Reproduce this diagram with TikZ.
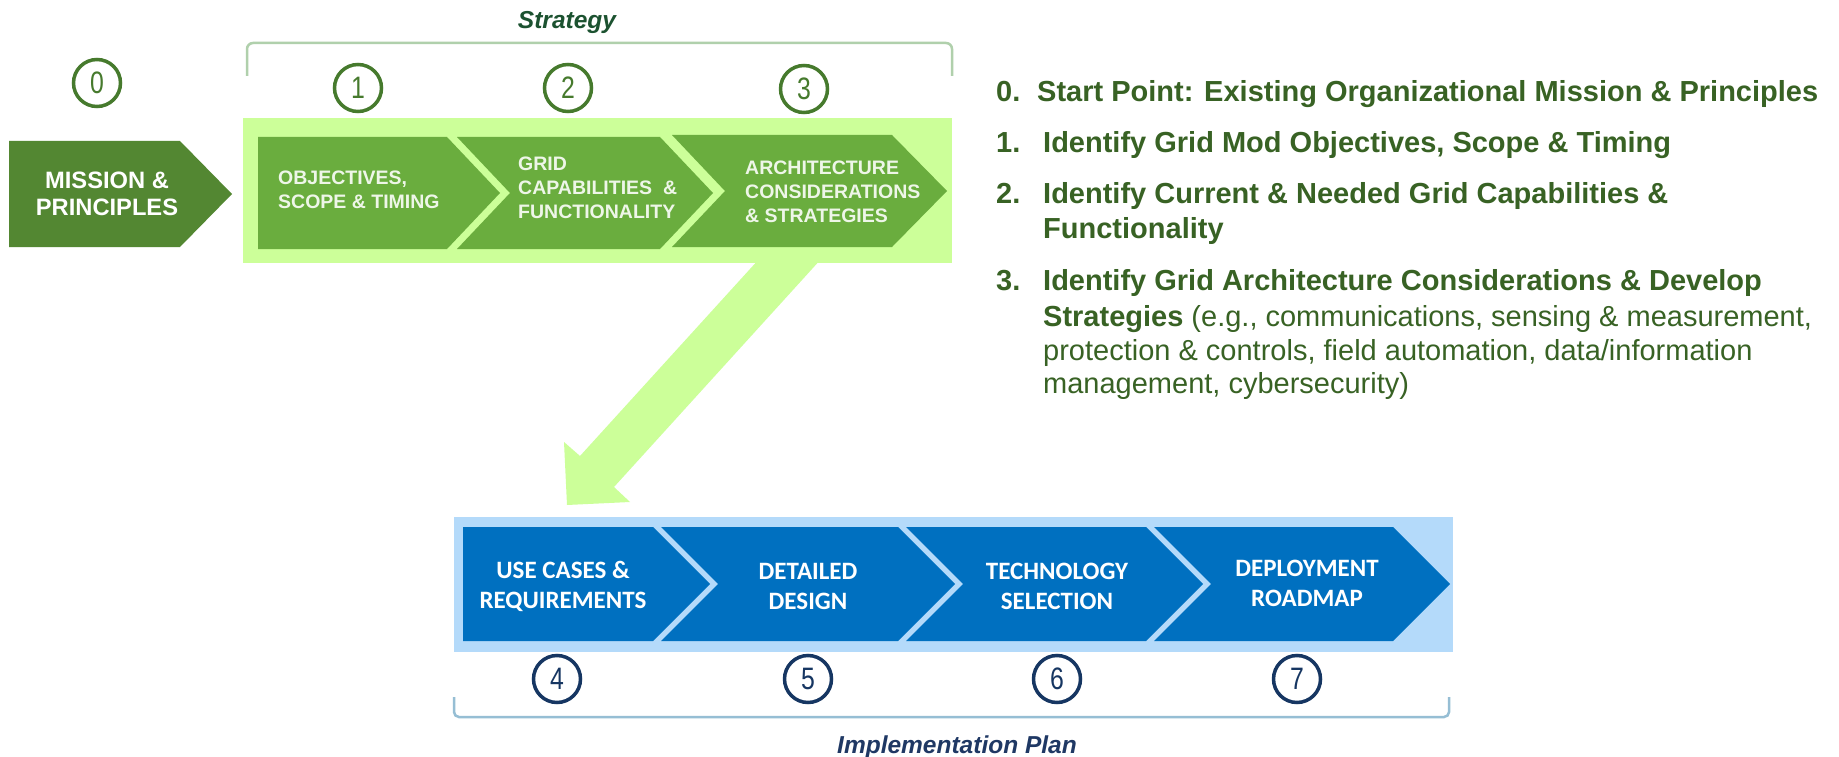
\documentclass[tikz,border=0pt]{standalone}
\usepackage{fontspec}
\setmainfont{Liberation Sans}
\newfontfamily\calibrifont{Carlito}
\newfontfamily\thinfont{Liberation Sans}[FakeStretch=0.8]
\usepackage{tikz}

\definecolor{missiongreen}{RGB}{83,135,50}
\definecolor{stepgreen}{RGB}{106,173,62}
\definecolor{palegreen}{RGB}{204,255,153}
\definecolor{textgreen}{RGB}{56,98,36}
\definecolor{titlegreen}{RGB}{28,82,48}
\definecolor{ringgreen}{RGB}{70,122,45}
\definecolor{bracegreen}{RGB}{176,208,172}
\definecolor{stepblue}{RGB}{0,112,192}
\definecolor{paleblue}{RGB}{180,218,250}
\definecolor{ringblue}{RGB}{22,54,98}
\definecolor{braceblue}{RGB}{150,190,212}
\definecolor{titleblue}{RGB}{31,56,100}
\definecolor{steptext}{RGB}{238,246,232}

\tikzset{
  greenring/.style={circle, draw=ringgreen, line width=3.5pt, minimum size=47pt, inner sep=0pt,
    text=ringgreen, font=\thinfont\fontsize{31}{31}\selectfont},
  bluering/.style={greenring, draw=ringblue, text=ringblue},
  greentext/.style={align=left, anchor=west, inner sep=0pt, text=steptext,
    font=\bfseries\fontsize{19.5}{24}\selectfont},
  bluetext/.style={align=center, inner sep=0pt, text=white,
    font=\calibrifont\bfseries\fontsize{25}{30}\selectfont},
  listline/.style={anchor=base west, inner sep=0pt, text=textgreen,
    font=\bfseries\fontsize{29}{34}\selectfont},
  plantitle/.style={inner sep=0pt, font=\bfseries\itshape\fontsize{24.5}{24.5}\selectfont}
}

\begin{document}
\begin{tikzpicture}[x=1pt,y=-1pt]
        \fill[white] (0,0) rectangle (1839,757);
        \useasboundingbox (0,0) rectangle (1839,757);

        % Strategy bracket
        \node[plantitle, text=titlegreen] (strategy) at (567,22) {Strategy};
        \draw[bracegreen, line width=2.5pt, rounded corners=6pt] (247,76) -- (247,43) -- (952,43) -- (952,76);

        % Mission
        \fill[missiongreen] (9,141) -- (180,141) -- (232,194) -- (180,247) -- (9,247) -- cycle;
        \node[align=center, inner sep=0pt, text=white, font=\bfseries\fontsize{23.7}{27}\selectfont] (mission) at (107,194) {MISSION \&\\PRINCIPLES};

        % Strategy box and the arrow down
        \fill[palegreen] (243,118) rectangle (952,263);
        \fill[palegreen] (760,258) -- (822,258) -- (614,487) -- (630,502) -- (567,505) -- (564,442) -- (580,456) -- cycle;

        % green steps
        \fill[stepgreen] (258,137) -- (447,137) -- (500,193) -- (447,249) -- (258,249) -- cycle;
        \fill[stepgreen] (457,137) -- (660,137) -- (713,193) -- (660,249) -- (457,249) -- (510,193) -- cycle;
        \fill[stepgreen] (672,135) -- (892,135) -- (947,191) -- (892,247) -- (672,247) -- (725,191) -- cycle;
        \node[greentext] (objectives) at (278,190) {OBJECTIVES,\\SCOPE \& TIMING};
        \node[greentext] (capabilities) at (518,188) {GRID\\CAPABILITIES \ \&\\FUNCTIONALITY};
        \node[greentext] (architecture) at (745,192) {ARCHITECTURE\\CONSIDERATIONS\\\& STRATEGIES};

        % numbers 0 to 3
        \node[greenring] (s0) at (97,83) {0};
        \node[greenring] (s1) at (358,88) {1};
        \node[greenring] (s2) at (568,88) {2};
        \node[greenring] (s3) at (804,89) {3};

        % Implementation bar
        \fill[paleblue] (454,517) rectangle (1453,652);
        \fill[stepblue] (463,527) -- (653,527) -- (710,584) -- (653,641) -- (463,641) -- cycle;
        \foreach \l/\r in {661/898, 906/1146, 1154/1393}
            \fill[stepblue] (\l,527) -- (\r,527) -- (\r+57,584) -- (\r,641) -- (\l,641) -- (\l+57,584) -- cycle;
        \node[bluetext] (usecases) at (563,586) {USE CASES \&\\REQUIREMENTS};
        \node[bluetext] (design) at (808,586) {DETAILED\\DESIGN};
        \node[bluetext] (technology) at (1057,586) {TECHNOLOGY\\SELECTION};
        \node[bluetext] (roadmap) at (1307,583) {DEPLOYMENT\\ROADMAP};

        % numbers 4 to 7
        \foreach \n/\x in {4/557, 5/808, 6/1057, 7/1297}
            \node[bluering] (s\n) at (\x,679) {\n};

        % Implementation bracket
        \draw[braceblue, line width=2.5pt, rounded corners=5pt] (454,697) -- (454,717) -- (1449,717) -- (1449,697);
        \node[plantitle, text=titleblue, anchor=base] (implementation) at (957,753) {Implementation Plan};

        % list on the right
        \node[listline] (item0) at (996,102) {0.};
        \node[listline] (item0a) at (1037,102) {Start Point: Existing Organizational Mission \& Principles};
        \node[listline] (item1) at (996,153) {1.};
        \node[listline] (item1a) at (1043,153) {Identify Grid Mod Objectives, Scope \& Timing};
        \node[listline] (item2) at (996,203) {2.};
        \node[listline] (item2a) at (1043,203) {Identify Current \& Needed Grid Capabilities \&};
        \node[listline] (item2b) at (1043,238) {Functionality};
        \node[listline] (item3) at (996,290) {3.};
        \node[listline] (item3a) at (1043,290) {Identify Grid Architecture Considerations \& Develop};
        \node[listline] (item3b) at (1043,326) {Strategies \mdseries(e.g., communications, sensing \& measurement,};
        \node[listline, font=\mdseries\fontsize{29}{34}\selectfont] (item3c) at (1043,360) {protection \& controls, field automation, data/information};
        \node[listline, font=\mdseries\fontsize{29}{34}\selectfont] (item3d) at (1043,393) {management, cybersecurity)};
\end{tikzpicture}
\end{document}
